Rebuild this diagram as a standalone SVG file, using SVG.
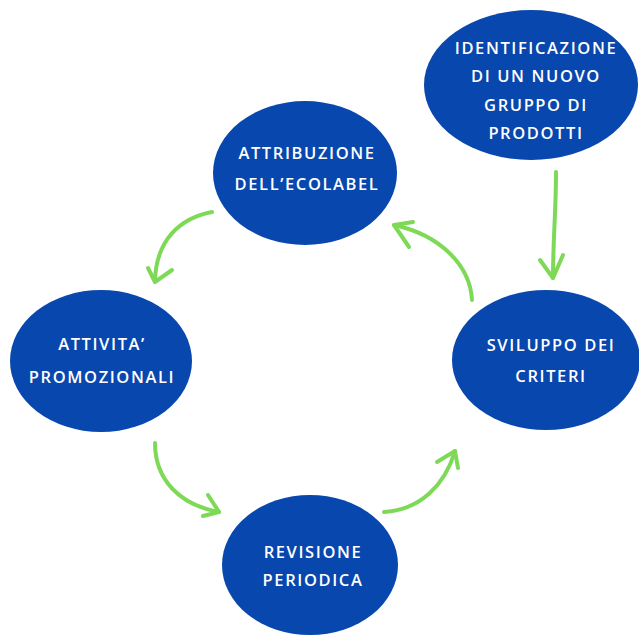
<svg xmlns="http://www.w3.org/2000/svg" width="639" height="635" viewBox="0 0 639 635">
<style>
.n{fill:#0847ad}
.t{fill:#ffffff;font-family:"Open Sans","Liberation Sans",sans-serif;font-size:16.5px;font-weight:600;letter-spacing:1.6px;text-anchor:middle}
.c{fill:none;stroke:#7ed957;stroke-width:4;stroke-linecap:round;stroke-linejoin:round}
</style>
<rect width="639" height="635" fill="#ffffff"/>
<g id="identificazione">
<ellipse class="n" cx="531" cy="85" rx="107" ry="75"/>
<text class="t" x="536" y="54">IDENTIFICAZIONE</text>
<text class="t" x="536" y="82">DI UN NUOVO</text>
<text class="t" x="536" y="111">GRUPPO DI</text>
<text class="t" x="536" y="139">PRODOTTI</text>
</g>
<g id="attribuzione">
<ellipse class="n" cx="305" cy="173" rx="92" ry="72"/>
<text class="t" x="307" y="159">ATTRIBUZIONE</text>
<text class="t" x="307" y="190">DELL’ECOLABEL</text>
</g>
<g id="attivita">
<ellipse class="n" cx="101" cy="361" rx="91" ry="71"/>
<text class="t" x="102" y="350">ATTIVITA’</text>
<text class="t" x="102" y="383">PROMOZIONALI</text>
</g>
<g id="sviluppo">
<ellipse class="n" cx="546" cy="360" rx="94" ry="70"/>
<text class="t" x="551" y="351">SVILUPPO DEI</text>
<text class="t" x="551" y="382">CRITERI</text>
</g>
<g id="revisione">
<ellipse class="n" cx="310" cy="565" rx="88" ry="70"/>
<text class="t" x="313" y="558">REVISIONE</text>
<text class="t" x="313" y="586">PERIODICA</text>
</g>
<g id="connectors">
<path class="c" d="M212 212 C180 218 156 240 155 281"/>
<path class="c" d="M148 268 L155 282 L172 270"/>
<path class="c" d="M472 300 C470 265 440 235 394 225"/>
<path class="c" d="M413 222 L394 225 L409 247"/>
<path class="c" d="M155 443 C155 480 180 505 219 512"/>
<path class="c" d="M208 495 L219 512 L203 516"/>
<path class="c" d="M384 512 C420 510 445 485 455 451"/>
<path class="c" d="M437 462 L455 451 L458 468"/>
<path class="c" d="M556 172 C556 210 553 240 553 278"/>
<path class="c" d="M540 260 L553 278 L563 255"/>
</g>
</svg>
